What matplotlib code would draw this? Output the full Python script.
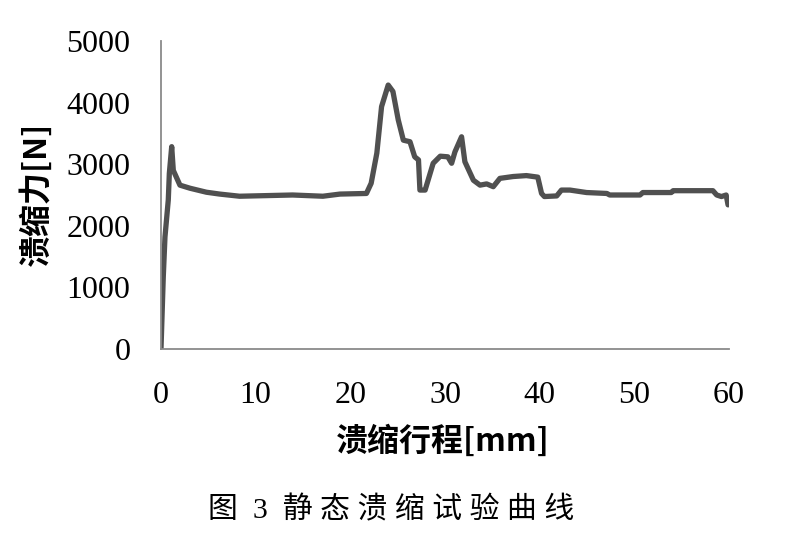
import matplotlib
matplotlib.use("Agg")
import matplotlib.pyplot as plt

# Data
stroke_mm = [0.0, 0.24, 0.42, 0.77, 0.88, 1.13, 1.3, 2.0, 3.06, 4.8, 6.2, 8.3, 13.9, 17.1,
             18.9, 21.7, 22.2, 22.8, 23.3, 24.0, 24.5, 25.06, 25.6, 26.3, 26.8, 27.2,
             27.35, 27.9, 28.75, 29.5, 30.3, 30.7, 31.05, 31.75, 32.1, 33.0, 33.7, 34.4,
             35.1, 35.8, 37.2, 38.6, 39.8, 40.2, 40.5, 41.8, 42.3, 43.2, 44.95, 47.1,
             47.4, 50.6, 50.9, 53.9, 54.1, 58.3, 58.7, 59.2, 59.7, 59.9]
force_N = [0, 1170, 1820, 2420, 2850, 3285, 2900, 2660, 2610, 2545, 2515, 2480, 2500, 2480,
           2515, 2525, 2690, 3180, 3935, 4285, 4180, 3720, 3390, 3365, 3120, 3070,
           2580, 2580, 3015, 3130, 3120, 3015, 3200, 3445, 3040, 2740, 2660, 2680,
           2635, 2770, 2800, 2815, 2790, 2525, 2475, 2485, 2580, 2580, 2540, 2525,
           2500, 2500, 2540, 2540, 2570, 2570, 2500, 2475, 2500, 2340]

x_ticks = [0, 10, 20, 30, 40, 50, 60]
y_ticks = [0, 1000, 2000, 3000, 4000, 5000]

x_label = "溃缩行程[mm]"
y_label = "溃缩力[N]"
caption = "图  3  静 态 溃 缩 试 验 曲 线"

cjk = ["Noto Sans CJK SC", "DejaVu Sans"]
serif = ["Liberation Serif", "Noto Sans CJK SC", "DejaVu Sans"]

fig = plt.figure(figsize=(7.86, 5.35), dpi=100)
ax = fig.add_axes([161/786, 1-349/535, (729-161)/786, (349-41)/535])

ax.plot(stroke_mm, force_N, color="#505050", lw=3.8, solid_joinstyle="round",
        solid_capstyle="round")

ax.set_xlim(0, 60)
ax.set_ylim(0, 5000)
ax.set_xticks(x_ticks)
ax.set_yticks(y_ticks)
ax.set_xticklabels([str(v) for v in x_ticks], family=serif, fontsize=23)
ax.set_yticklabels([str(v) for v in y_ticks], family=serif, fontsize=23)
ax.tick_params(axis="x", length=0, pad=23)
ax.tick_params(axis="y", length=0, pad=22)

for s in ["top", "right"]:
    ax.spines[s].set_visible(False)
for s in ["left", "bottom"]:
    ax.spines[s].set_color("#8a8a8a")
    ax.spines[s].set_linewidth(1.3)

ax.set_xlabel(x_label, family=cjk, fontsize=23, fontweight="bold", va="center")
ax.xaxis.set_label_coords((443-161)/568, (349-442)/308)
ax.set_ylabel(y_label, family=cjk, fontsize=23, fontweight="bold", va="center")
ax.yaxis.set_label_coords((36-161)/568, (349-194)/308)

fig.text(391/786, 1-510/535, caption, family=serif, fontsize=21.5,
         ha="center", va="center")

fig.savefig("out.png", dpi=100, facecolor="white")
